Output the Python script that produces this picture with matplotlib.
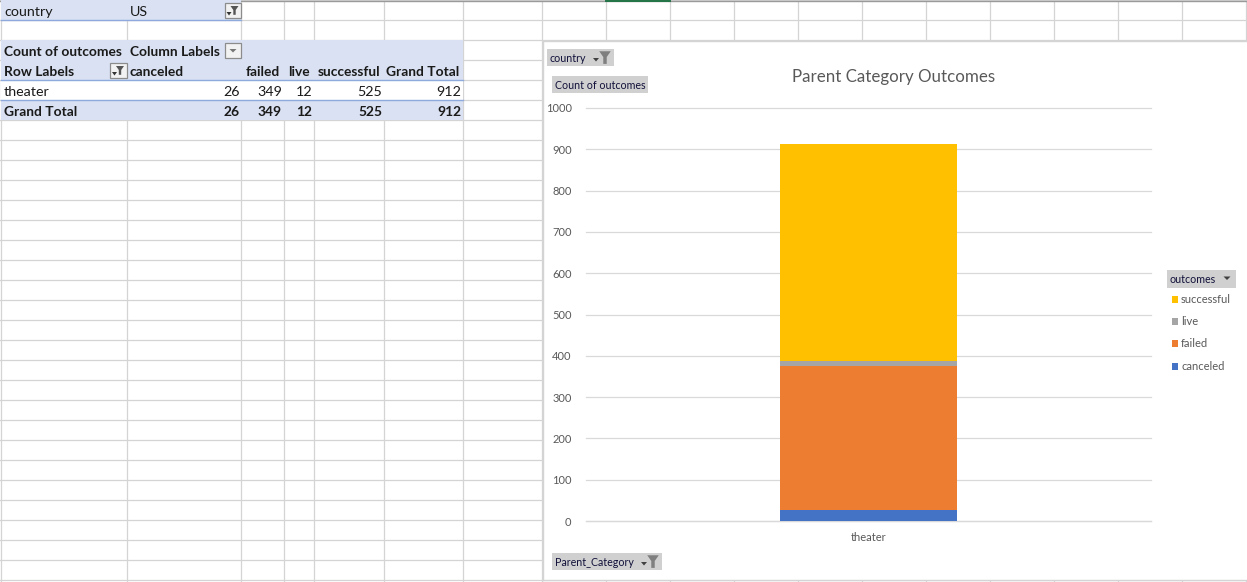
import matplotlib
matplotlib.use("Agg")
import matplotlib.pyplot as plt
from matplotlib.patches import Rectangle, Polygon

plt.rcParams['font.family'] = ['Lato', 'DejaVu Sans']

# pivot data
category = "theater"
outcomes = ["canceled", "failed", "live", "successful"]
counts = [26, 349, 12, 525]
grand_total = 912
colors = ["#4472C4", "#ED7D31", "#A5A5A5", "#FFC000"]
yticks = [0, 100, 200, 300, 400, 500, 600, 700, 800, 900, 1000]

# sheet geometry, in pixels
col_edges = [1, 127, 241, 284, 314, 384, 463, 542, 606, 670, 734, 798, 862, 926, 990, 1054, 1118, 1182, 1246]
row_edges = list(range(0, 582, 20))
W, H = 1247, 582
HEAD = "#D9E1F2"
LINE = "#D4D4D4"
TXT = "#1a1a1a"

fig = plt.figure(figsize=(W / 100, H / 100), dpi=100)

sheet = fig.add_axes([0, 0, 1, 1])
sheet.set_xlim(0, W)
sheet.set_ylim(H, 0)
sheet.axis("off")

for x in col_edges:
    sheet.plot([x, x], [0, H], color=LINE, lw=0.9, zorder=1)
for y in row_edges:
    sheet.plot([0, W], [y, y], color=LINE, lw=0.9, zorder=1)
sheet.plot([0, W], [0.5, 0.5], color="#9a9a9a", lw=1, zorder=2)
sheet.plot([606, 670], [0.5, 0.5], color="#217346", lw=1.4, zorder=3)


def band(x0, x1, y0, y1, color=HEAD, z=2):
    sheet.add_patch(Rectangle((x0, y0), x1 - x0, y1 - y0, fc=color, ec="none", zorder=z))


def cell(x, y, s, bold=False, ha="left"):
    sheet.text(x, y, s, ha=ha, va="center", fontsize=9.9 if bold else 10.3, color=TXT,
               fontweight="bold" if bold else "normal", zorder=5)


def funnel(cx, cy, scale=1.0, color="#555555"):
    s = scale
    sheet.add_patch(Polygon([(cx - 5 * s, cy - 5 * s), (cx + 5 * s, cy - 5 * s), (cx + 1.5 * s, cy),
                             (cx + 1.5 * s, cy + 6 * s), (cx - 1.5 * s, cy + 6 * s), (cx - 1.5 * s, cy)],
                            fc=color, ec="none", zorder=7))


def arrow(cx, cy, color="#444444", w=3.5):
    sheet.add_patch(Polygon([(cx - w, cy - 1.5), (cx + w, cy - 1.5), (cx, cy + 2)], fc=color, ec="none", zorder=7))


def button(x0, y0, x1, y1, has_filter=True):
    sheet.add_patch(Rectangle((x0, y0), x1 - x0, y1 - y0, fc="#F2F2F2", ec="#8c8c8c", lw=0.9, zorder=6))
    cx = (x0 + x1) / 2
    cy = (y0 + y1) / 2
    if has_filter:
        funnel(cx + 1.5, cy - 0.5, 0.8, "#555555")
        arrow(cx - 4, cy + 3, "#333333", 2.5)
    else:
        arrow(cx, cy, "#777777", 3.5)


# report filter
band(1, 241, 0, 20)
sheet.plot([1, 241], [20, 20], color="#8EA9DB", lw=1, zorder=3)
cell(4, 11.5, "country")
cell(130, 11.5, "US")
button(225, 3, 241, 18)

# pivot table
band(1, 463, 40, 80)
band(1, 463, 100, 120)
sheet.add_patch(Rectangle((1, 80), 462, 20, fc="white", ec="none", zorder=2))
sheet.plot([1, 463], [80, 80], color="#8EA9DB", lw=1, zorder=3)
sheet.plot([1, 463], [100, 100], color="#8EA9DB", lw=1, zorder=3)

cell(4, 51.5, "Count of outcomes", bold=True)
cell(130, 51.5, "Column Labels", bold=True)
button(225, 43, 241, 58, has_filter=False)
cell(4, 71.5, "Row Labels", bold=True)
button(110, 63, 127, 78)

# header labels share the column right edges with the numbers
right_edges = [239, 280, 310, 380, 459]
cell(130, 71.5, outcomes[0], bold=True)
for r, s in zip(right_edges[1:4], outcomes[1:]):
    cell(r, 71.5, s, bold=True, ha="right")
cell(right_edges[4], 71.5, "Grand Total", bold=True, ha="right")

cell(4, 91.5, category)
cell(4, 111.5, "Grand Total", bold=True)
num_edges = [239.5, 282, 312, 382, 461.5]
for r, v in zip(num_edges, counts + [grand_total]):
    cell(r, 91.5, str(v), ha="right")
    cell(r, 111.5, str(v), bold=True, ha="right")

# chart area covers the sheet
band(543, W, 41, 580, "white", z=4)
sheet.plot([542.5, 542.5], [41, 580], color="#D4D4D4", lw=1, zorder=4.5)
sheet.plot([542.5, W], [41, 41], color="#D4D4D4", lw=1, zorder=4.5)
sheet.plot([542.5, W], [580, 580], color="#D4D4D4", lw=1, zorder=4.5)


def field_button(x0, y0, x1, y1, s, kind="filter"):
    sheet.add_patch(Rectangle((x0, y0), x1 - x0, y1 - y0, fc="#D0D0D0", ec="none", zorder=6))
    sheet.text(x0 + 3, (y0 + y1) / 2 + 0.8, s, ha="left", va="center", fontsize=7.7, color="#10103a", zorder=8)
    if kind == "filter":
        funnel(x1 - 9, (y0 + y1) / 2 - 0.5, 1.15, "#7f7f7f")
        arrow(x1 - 18, (y0 + y1) / 2 + 2, "#404040", 3)
    elif kind == "arrow":
        arrow(x1 - 9, (y0 + y1) / 2 - 1, "#404040", 3.5)


field_button(547, 49, 614, 66, "country")
field_button(552, 76, 648, 93, "Count of outcomes", kind=None)
field_button(552, 553, 662, 570, "Parent_Category")
field_button(1167, 270, 1236, 288, "outcomes", kind="arrow")

# stacked column
ax = fig.add_axes([585.5 / W, 1 - 521 / H, (1151 - 585.5) / W, (521 - 108) / H], zorder=3)
ax.patch.set_alpha(0)
bottom = 0
for name, value, color in zip(outcomes, counts, colors):
    ax.bar([category], [value], bottom=bottom, width=0.313, color=color, label=name, zorder=3)
    bottom += value
ax.set_xlim(-0.5, 0.5)
ax.set_ylim(0, 1000)
ax.set_yticks(yticks)
ax.tick_params(length=0, labelsize=8, labelcolor="#595959")
ax.tick_params(axis="y", pad=10)
ax.tick_params(axis="x", pad=8)
ax.grid(axis="y", color="#D9D9D9", lw=0.9, zorder=0, clip_on=False)
ax.set_axisbelow(True)
for side in ["top", "right", "left"]:
    ax.spines[side].set_visible(False)
ax.spines["bottom"].set_color("#D9D9D9")
ax.spines["bottom"].set_linewidth(0.9)

fig.text(894 / W, 1 - 77 / H, "Parent Category Outcomes", ha="center", va="center",
         fontsize=12.2, color="#595959", zorder=10)

# legend, top entry is the last series
legend_y = [299, 321, 343, 366]
for y, name, color in zip(legend_y, outcomes[::-1], colors[::-1]):
    sheet.add_patch(Rectangle((1171.5, y - 3), 6.5, 7, fc=color, ec="none", zorder=6))
    sheet.text(1181, y + 0.3, name, ha="left", va="center", fontsize=8, color="#595959", zorder=6)

fig.savefig("out.png", dpi=100)
